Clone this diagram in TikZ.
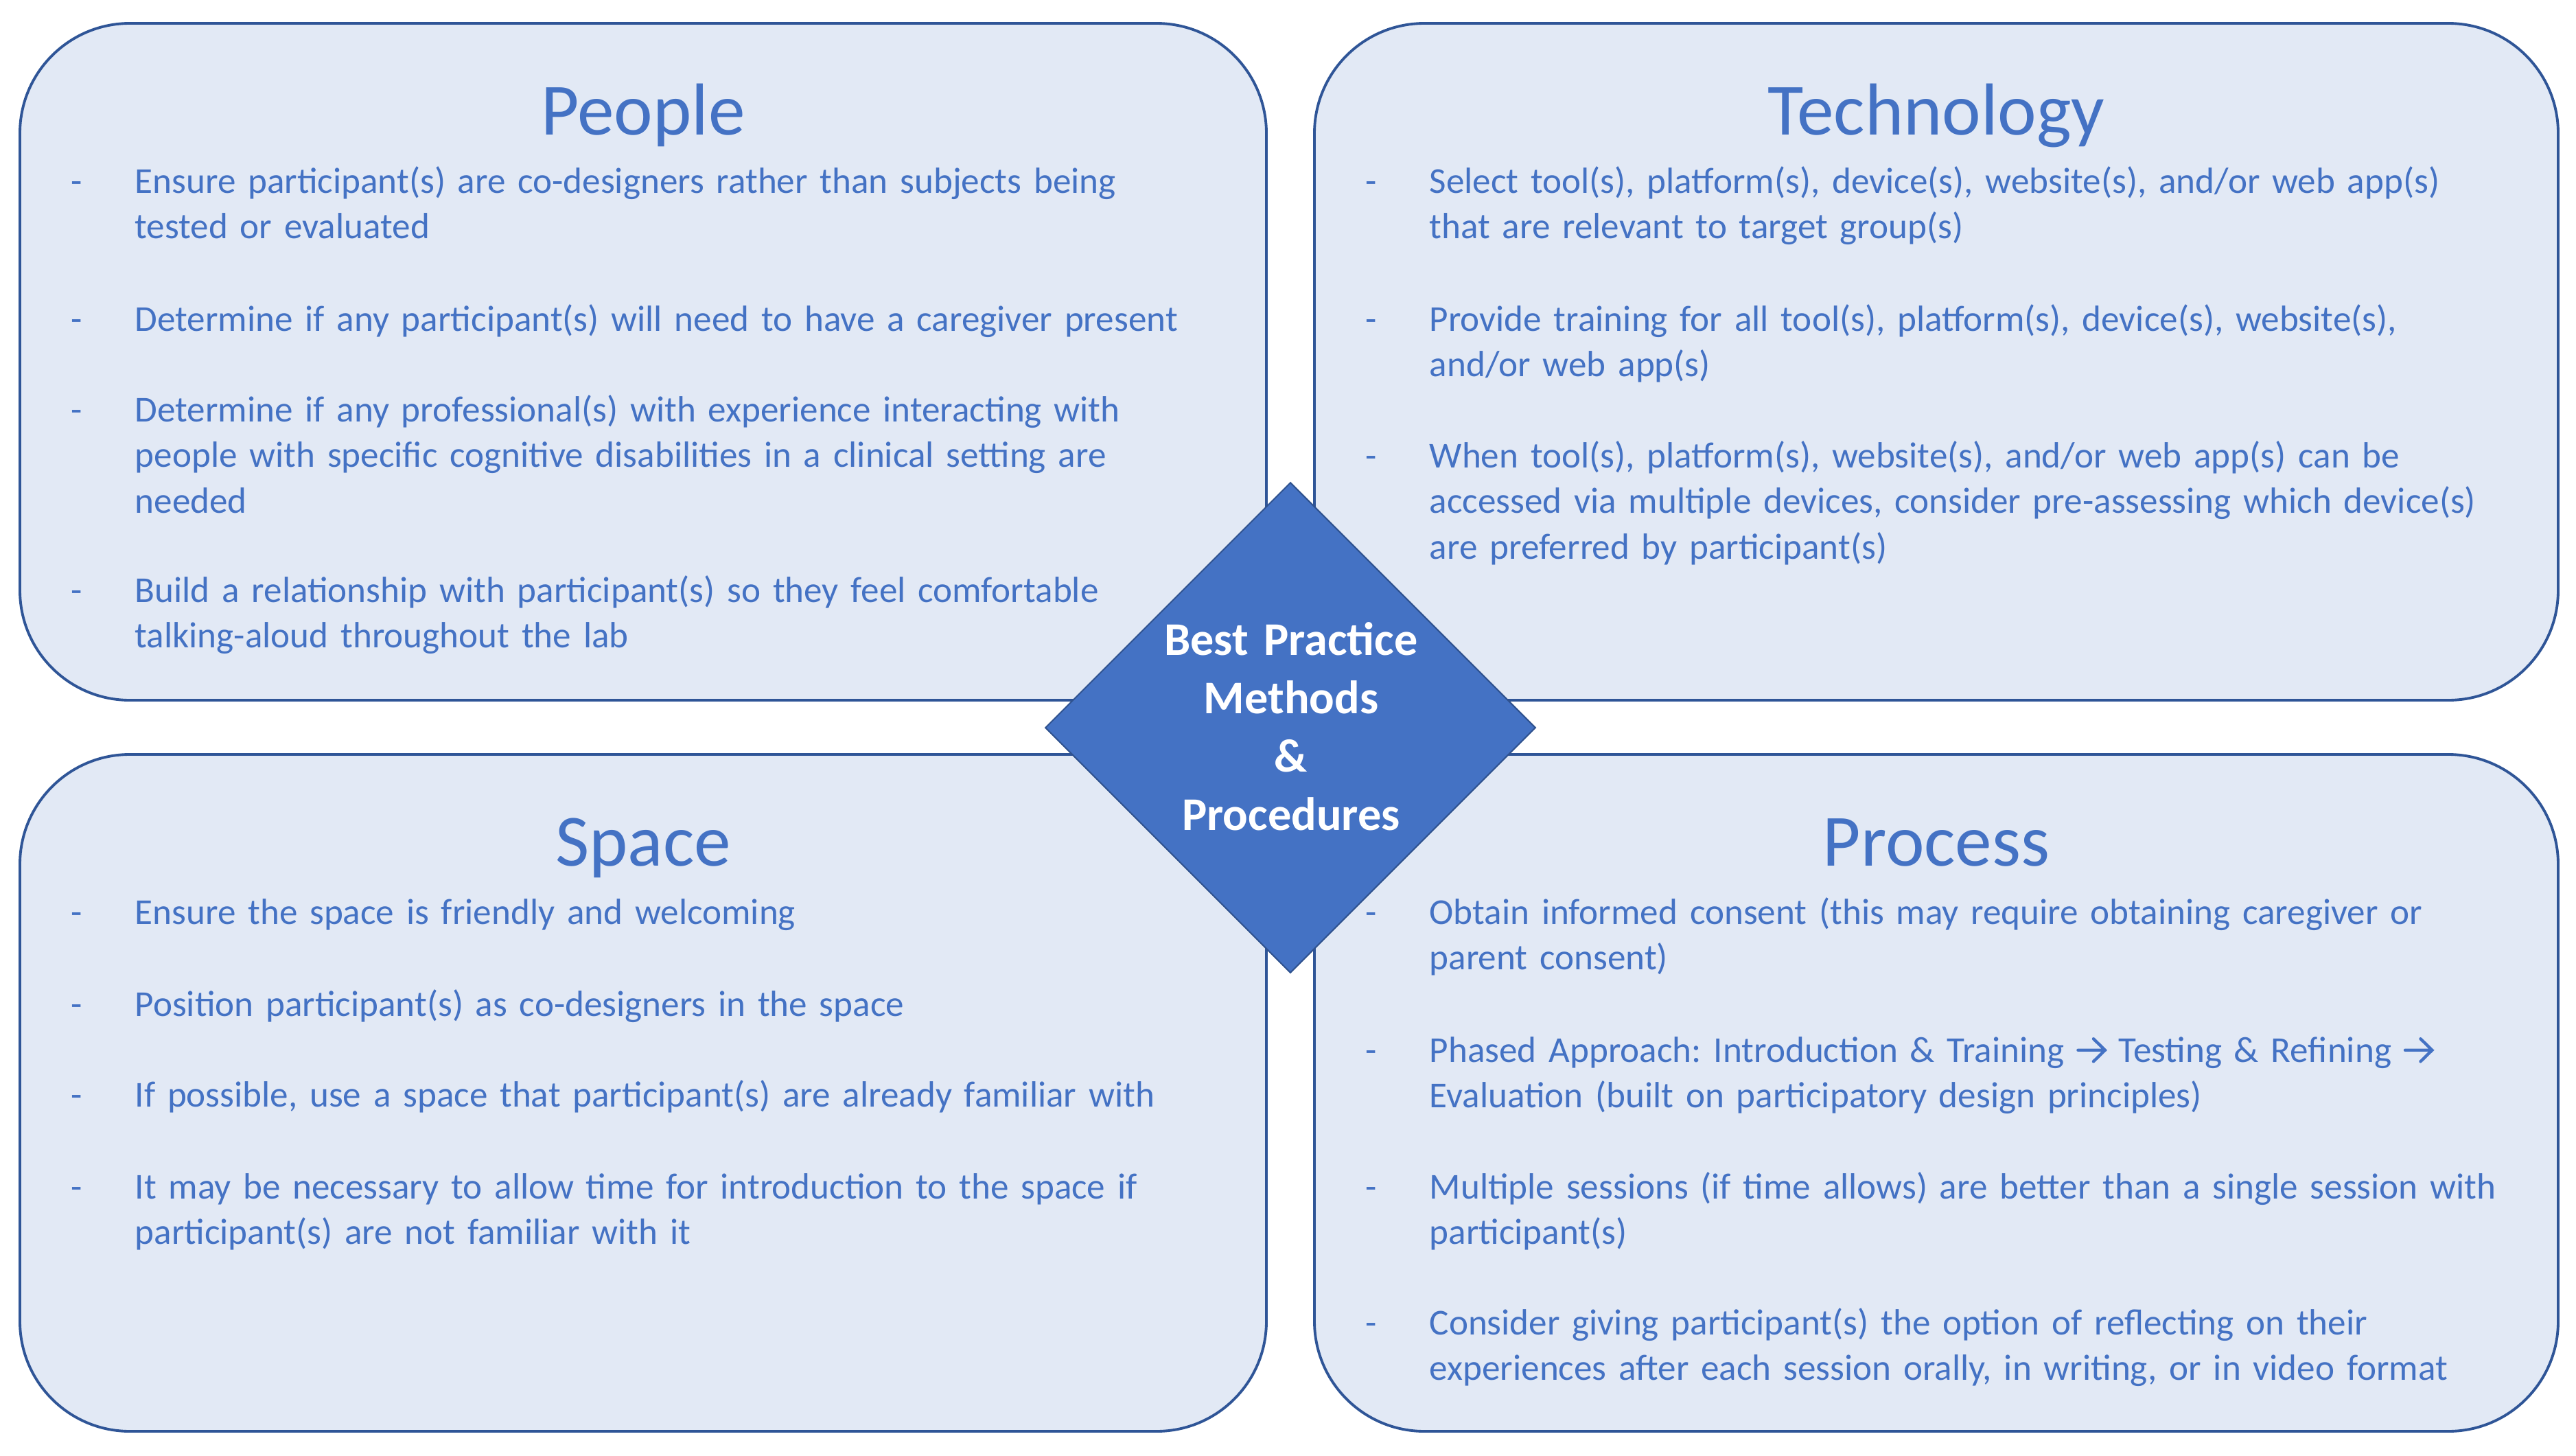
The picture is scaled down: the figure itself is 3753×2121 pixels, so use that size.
\documentclass[tikz,border=0pt]{standalone}
\usepackage{fontspec}
\setmainfont{Carlito}
\usetikzlibrary{shapes.geometric}
\definecolor{boxfill}{HTML}{E2E9F5}
\definecolor{boxline}{HTML}{2F5597}
\definecolor{txtblue}{HTML}{4472C4}
\definecolor{dmdfill}{HTML}{4472C4}
\definecolor{dmdline}{HTML}{2F528F}
\newcommand{\arr}{\tikz[x=1pt,y=1pt,baseline=0pt]{\draw[draw=txtblue,line width=1.25pt,line cap=round,line join=miter] (0.8,4.9) -- (11.8,4.9) (7.2,9.6) -- (12.0,4.9) -- (7.2,0.2);}}
\frenchspacing
\begin{document}
\begin{tikzpicture}[x=0.01cm,y=-0.01cm,
  panel/.style={draw=boxline, line width=1.1pt, fill=boxfill, rounded corners=1.6cm},
  title/.style={font=\fontsize{30.5}{37}\selectfont, text=txtblue, anchor=base, inner sep=0},
  item/.style={font=\fontsize{15.12}{18.92}\selectfont, text=txtblue, anchor=base west, inner sep=0, text width=16.3cm, align=left},
  bullet/.style={font=\fontsize{15.12}{18.92}\selectfont, text=txtblue, anchor=base, inner sep=0},
  dmd/.style={diamond, aspect=1, draw=dmdline, line width=0.6pt, fill=dmdfill, minimum width=7.14cm, minimum height=7.14cm, inner sep=0},
  dmdtext/.style={font=\bfseries\fontsize{19.4}{24.2}\selectfont, text=white, anchor=base, inner sep=0, text width=5cm, align=center}]
\useasboundingbox (0,0) rectangle (3753,2121);
\fill[white] (0,0) rectangle (3753,2121);

% panels
\path[panel] (29,34) rectangle (1845,1020);
\path[panel] (1915,34) rectangle (3727,1020);
\path[panel] (29,1099) rectangle (1845,2085);
\path[panel] (1915,1099) rectangle (3727,2085);

% People
\node[title] (tPeople) at (937,196) {People};
\node[bullet] (bP1) at (112,281) {-};
\node[item] (iP1) at (196,281) {Ensure participant(s) are co-designers rather than subjects being\\tested or evaluated};
\node[bullet] (bP2) at (112,482) {-};
\node[item] (iP2) at (196,482) {Determine if any participant(s) will need to have a caregiver present};
\node[bullet] (bP3) at (112,614) {-};
\node[item] (iP3) at (196,614) {Determine if any professional(s) with experience interacting with\\people with specific cognitive disabilities in a clinical setting are\\needed};
\node[bullet] (bP4) at (112,877) {-};
\node[item] (iP4) at (196,877) {Build a relationship with participant(s) so they feel comfortable\\talking-aloud throughout the lab};

% Technology
\node[title] (tTech) at (2821,196) {Technology};
\node[bullet] (bT1) at (1998,281) {-};
\node[item] (iT1) at (2082,281) {Select tool(s), platform(s), device(s), website(s), and/or web app(s)\\that are relevant to target group(s)};
\node[bullet] (bT2) at (1998,482) {-};
\node[item] (iT2) at (2082,482) {Provide training for all tool(s), platform(s), device(s), website(s),\\and/or web app(s)};
\node[bullet] (bT3) at (1998,681) {-};
\node[item] (iT3) at (2082,681) {When tool(s), platform(s), website(s), and/or web app(s) can be\\accessed via multiple devices, consider pre-assessing which device(s)\\are preferred by participant(s)};

% Space
\node[title] (tSpace) at (937,1261) {Space};
\node[bullet] (bS1) at (112,1346) {-};
\node[item] (iS1) at (196,1346) {Ensure the space is friendly and welcoming};
\node[bullet] (bS2) at (112,1480) {-};
\node[item] (iS2) at (196,1480) {Position participant(s) as co-designers in the space};
\node[bullet] (bS3) at (112,1612) {-};
\node[item] (iS3) at (196,1612) {If possible, use a space that participant(s) are already familiar with};
\node[bullet] (bS4) at (112,1746) {-};
\node[item] (iS4) at (196,1746) {It may be necessary to allow time for introduction to the space if\\participant(s) are not familiar with it};

% Process
\node[title] (tProc) at (2821,1261) {Process};
\node[bullet] (bR1) at (1998,1346) {-};
\node[item] (iR1) at (2082,1346) {Obtain informed consent (this may require obtaining caregiver or\\parent consent)};
\node[bullet] (bR2) at (1998,1547) {-};
\node[item] (iR2) at (2082,1547) {Phased Approach: Introduction \& Training \arr{} Testing \& Refining \arr\\Evaluation (built on participatory design principles)};
\node[bullet] (bR3) at (1998,1746) {-};
\node[item] (iR3) at (2082,1746) {Multiple sessions (if time allows) are better than a single session with\\participant(s)};
\node[bullet] (bR4) at (1998,1944) {-};
\node[item] (iR4) at (2082,1944) {Consider giving participant(s) the option of reflecting on their\\experiences after each session orally, in writing, or in video format};

% centre diamond
\node[dmd] (center) at (1880,1060) {};
\node[dmdtext] (ctext) at (1881,954) {Best Practice\\Methods\\\&\\Procedures};
\end{tikzpicture}
\end{document}
